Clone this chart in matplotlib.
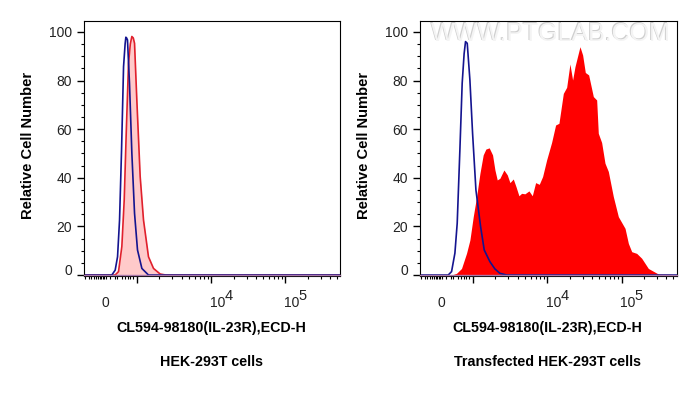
import matplotlib
matplotlib.use('Agg')
import matplotlib.pyplot as plt
from matplotlib.transforms import ScaledTranslation

plt.rcParams['font.family'] = ['Liberation Sans', 'DejaVu Sans']

# x values are positions on the biexponential axis, in decades (4 = 10^4)
left_blue_x = [2.29, 2.661, 2.706, 2.738, 2.765, 2.792, 2.819, 2.84, 2.850, 2.860, 2.872, 2.899, 2.931, 2.967,
               3.007, 3.066, 3.155, 5.74]
left_blue_y = [0, 0, 2, 7.5, 22.6, 51.4, 85.7, 95, 97.8, 97.5, 96.7, 78.9, 50, 25.4, 10.3, 2.7, 0, 0]
left_red_x = [2.29, 2.706, 2.751, 2.796, 2.828, 2.855, 2.886, 2.91, 2.931, 2.95, 2.967, 2.998, 3.043, 3.088,
              3.155, 3.223, 3.313, 3.389, 5.74]
left_red_y = [0, 0, 1.4, 11.7, 30.9, 58.3, 87.1, 95, 98.1, 97.5, 95.3, 71.9, 40.5, 22.6, 7.5, 2.7, 0.4, 0, 0]

right_blue_x = [2.29, 2.666, 2.711, 2.756, 2.787, 2.823, 2.854, 2.88, 2.899, 2.922, 2.958, 2.994, 3.039, 3.102,
                3.151, 3.227, 3.295, 3.362, 3.452, 5.74]
right_blue_y = [0, 0, 1.4, 9, 21.3, 51.4, 78.9, 91, 96, 95.3, 80.2, 58.3, 35, 19.9, 10.3, 5.5, 2.5, 0.7, 0, 0]
right_red_x = [2.29, 2.711, 2.778, 2.845, 2.913, 2.958, 3.003, 3.048, 3.093, 3.137, 3.173, 3.218, 3.263, 3.295,
               3.326, 3.362, 3.416, 3.461, 3.497, 3.542, 3.578, 3.618, 3.654, 3.699, 3.753, 3.798, 3.843, 3.892,
               3.937, 3.991, 4.058, 4.112, 4.157, 4.216, 4.261, 4.305, 4.341, 4.373, 4.440, 4.476, 4.512, 4.557,
               4.620, 4.665, 4.687, 4.732, 4.777, 4.822, 4.889, 4.957, 5.047, 5.092, 5.137, 5.204, 5.271, 5.361,
               5.496, 5.653, 5.74]
right_red_y = [0, 0, 0.7, 2.7, 9, 14.4, 24, 32.2, 41.8, 49.4, 51.8, 52.3, 49.4, 43.2, 39.1, 39.8, 43.2, 41.2, 38,
               39.5, 36.4, 32.6, 33.6, 33.4, 34.6, 32.6, 38, 37.3, 40.5, 47.3, 54.5, 61.7, 62.4, 74.7, 77.2, 86.8,
               80.2, 85.7, 93.9, 90.5, 83.3, 82.3, 73.4, 72, 58.3, 54.5, 46, 42.6, 32.3, 24, 19.2, 13, 9.6, 8.9,
               6.9, 2.7, 0.4, 0.3, 0]

y_major = [0, 20, 40, 60, 80, 100]
y_minor = [5, 10, 15, 25, 30, 35, 45, 50, 55, 65, 70, 75, 85, 90, 95]
x_major = [3, 4, 5]
x_minor = [2.30, 2.349, 2.385, 2.422, 2.449, 2.48, 2.50, 2.52, 2.54, 2.56, 2.58, 2.641, 2.70, 2.732, 2.80, 2.844,
           2.88, 2.91, 2.942, 3.301, 3.477, 3.602, 3.699, 3.778, 3.845, 3.903, 3.954, 4.301, 4.477, 4.602, 4.699,
           4.778, 4.845, 4.903, 4.954, 5.301, 5.477, 5.602, 5.699]
x_label = 'CL594-98180(IL-23R),ECD-H'
y_label = 'Relative Cell Number'
titles = ['HEK-293T cells', 'Transfected HEK-293T cells']
watermark = 'WWW.PTGLAB.COM'

W, H = 697, 400
TEXT = '#222222'
BLUE = '#14148f'


def setup_axes(box):
    ax = fig.add_axes([box[0] / W, 1 - 276 / H, (box[1] - box[0]) / W, 255.3 / H])
    ax.set_xlim(2.29, 5.74)
    ax.set_ylim(-0.4, 104.6)
    ax.set_yticks(y_major)
    ax.set_yticks(y_minor, minor=True)
    ax.set_xticks(x_major)
    ax.set_xticks(x_minor, minor=True)
    ax.set_xticklabels([])
    ax.tick_params(axis='both', which='major', length=5, width=1, labelsize=10, labelcolor=TEXT, pad=4)
    ax.tick_params(axis='both', which='minor', length=2.5, width=0.8)
    # the 0 label sits a little above its tick in the original
    zero = ax.get_yticklabels()[0]
    zero.set_transform(zero.get_transform() + ScaledTranslation(0, 4 / 72, fig.dpi_scale_trans))

    for exp in x_major[1:]:
        ax.annotate('10', (exp, 0), xycoords=('data', 'axes fraction'), xytext=(-1.2, -14.5),
                    textcoords='offset points', fontsize=10, color=TEXT, va='top', ha='left')
        ax.annotate(str(exp), (exp, 0), xycoords=('data', 'axes fraction'), xytext=(9.5, -9),
                    textcoords='offset points', fontsize=10.5, color=TEXT, va='top', ha='left')
    ax.annotate('0', (2.574, 0), xycoords=('data', 'axes fraction'), xytext=(0, -14.5),
                textcoords='offset points', fontsize=10, color=TEXT, va='top', ha='center')

    mid = (box[0] + box[1]) / 2 - 1.3
    fig.text(mid / W, 1 - 328 / H, x_label, fontsize=10.25, fontweight='bold', ha='center', va='center')
    fig.text((box[0] - 56) / W, 1 - 145.5 / H, y_label, fontsize=10.6, fontweight='bold',
             rotation=90, ha='center', va='center')
    # baseline of the overlaid histograms
    ax.axhline(-0.1, color='#a878a8', lw=1, zorder=5, clip_on=False)
    return ax


fig = plt.figure(figsize=(W / 100, H / 100), dpi=100)

ax1 = setup_axes((84.3, 340.3))
ax1.fill_between(left_red_x, left_red_y, color='#ffcaca', lw=0)
ax1.plot(left_red_x, left_red_y, color='#e0202c', lw=1.2)
ax1.plot(left_blue_x, left_blue_y, color=BLUE, lw=1.2)
fig.text(211.5 / W, 1 - 362 / H, titles[0], fontsize=10.3, fontweight='bold', ha='center', va='center')

ax2 = setup_axes((420.3, 676.5))
# embossed watermark behind the curves, runs up to the right edge
ax2.text(0.038, 0.95, watermark, transform=ax2.transAxes, fontsize=18, color='#cfcfcf',
         ha='left', va='center', clip_on=True, zorder=0)
ax2.annotate(watermark, (0.038, 0.95), xycoords='axes fraction', xytext=(0.7, -0.7), textcoords='offset points',
             fontsize=18, color='#f4f4f4', ha='left', va='center', annotation_clip=False, clip_on=True, zorder=0)
ax2.fill_between(right_red_x, right_red_y, color='#ff0000', lw=0)
ax2.plot(right_blue_x, right_blue_y, color=BLUE, lw=1.2)
fig.text(548 / W, 1 - 362 / H, titles[1], fontsize=10.3, fontweight='bold', ha='center', va='center')

fig.savefig('out.png', dpi=100)
